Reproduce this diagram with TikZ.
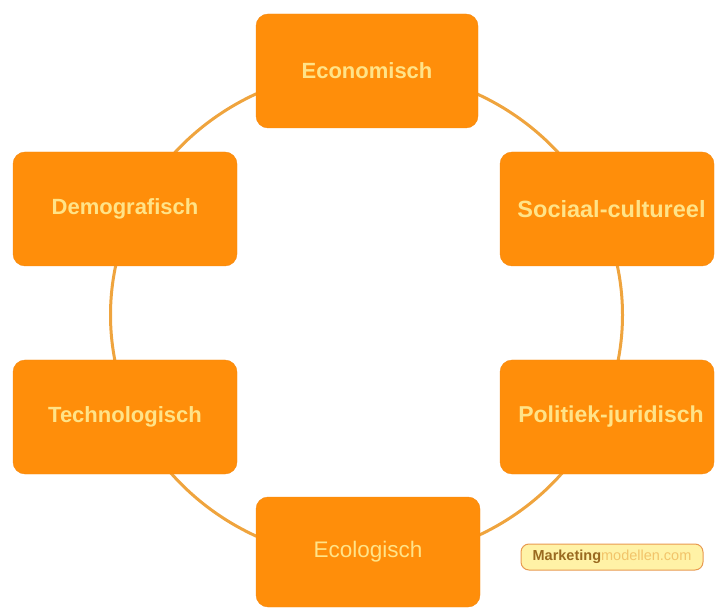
\documentclass[tikz,border=0pt]{standalone}
\usepackage{fontspec}
\setmainfont{Liberation Sans}
\usepackage{xcolor}
\usepackage{tikz}

\definecolor{boxorange}{HTML}{FF8E0A}
\definecolor{boxline}{HTML}{F58A12}
\definecolor{boxtext}{HTML}{FFE388}
\definecolor{ringline}{HTML}{EFA43E}
\definecolor{tagfill}{HTML}{FFF2A6}
\definecolor{tagline}{HTML}{E89A50}
\definecolor{tagdark}{HTML}{9A6A20}
\definecolor{taglight}{HTML}{F2C46A}

\begin{document}
\begin{tikzpicture}[x=1pt, y=-1pt,
  fac/.style={draw=boxline, fill=boxorange, rounded corners=12pt,
              minimum height=114pt, inner sep=0pt, text=boxtext,
              font=\fontsize{22}{26}\selectfont\bfseries},
  tag/.style={draw=tagline, fill=tagfill, rounded corners=8pt, line width=1pt,
              minimum width=182pt, minimum height=26pt, inner sep=0pt,
              font=\fontsize{14.5}{17}\selectfont}]
\useasboundingbox (0,0) rectangle (715,609);
\coordinate (mid) at (366.5,315);
\draw[ringline, line width=3pt] (mid) ellipse [x radius=256, y radius=245];
\node[fac, minimum width=222pt] (eco) at (367,71) {Economisch};
\node[fac, minimum width=224pt] (demo) at (125,209) {Demografisch};
\node[fac, minimum width=214pt, font=\fontsize{23.5}{27}\selectfont\bfseries]
  (soc) at (607,209) {\hspace*{9pt}Sociaal-cultureel};
\node[fac, minimum width=224pt] (tech) at (125,417) {Technologisch};
\node[fac, minimum width=214pt, font=\fontsize{23}{27}\selectfont\bfseries]
  (pol) at (607,417) {\hspace*{8pt}Politiek-juridisch};
\node[fac, minimum width=224pt, minimum height=110pt,
      font=\fontsize{22.5}{26}\selectfont] (ecol) at (368,552) {Ecologisch};
\node[tag] (mm) at (612,557)
  {\textcolor{tagdark}{\bfseries Marketing}\textcolor{taglight}{modellen.com}};
\end{tikzpicture}
\end{document}
